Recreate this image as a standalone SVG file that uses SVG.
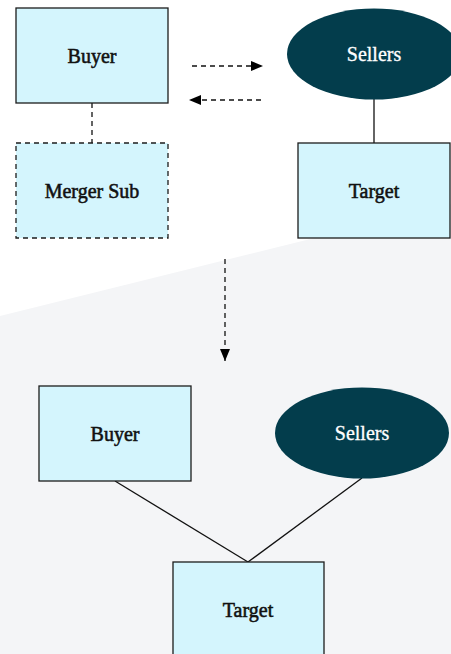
<svg xmlns="http://www.w3.org/2000/svg" width="451" height="654" viewBox="0 0 451 654">
<style>
.box{fill:#d4f5fd;stroke:#1c1c1c;stroke-width:1.3}
.dash{stroke-dasharray:5 4}
.ell{fill:#033d4c}
.lbl{font-family:"Liberation Serif","Times New Roman",serif;font-size:20px;text-anchor:middle;fill:#111;stroke:#111;stroke-width:0.55}
.wl{fill:#fff;stroke:#fff;stroke-width:0.3}
.ln{stroke:#111;stroke-width:1.3;fill:none}
</style>
<defs>
<marker id="ah" markerWidth="13" markerHeight="11" refX="12" refY="5.5" orient="auto" markerUnits="userSpaceOnUse">
<path d="M0,0.5 L12,5.5 L0,10.5 z" fill="#000"/>
</marker>
</defs>
<rect width="451" height="654" fill="#fff"/>
<polygon points="0,316 451,204 451,654 0,654" fill="#f4f5f7"/>
<g id="connectors">
<line class="ln dash" x1="92" y1="103" x2="92" y2="143"/>
<line class="ln" x1="374" y1="99" x2="374" y2="143"/>
<line class="ln dash" x1="192" y1="66" x2="263" y2="66" marker-end="url(#ah)"/>
<line class="ln dash" x1="261" y1="100" x2="189" y2="100" marker-end="url(#ah)"/>
<line class="ln dash" x1="225" y1="259" x2="225" y2="361" marker-end="url(#ah)"/>
<line class="ln" x1="115" y1="481" x2="248" y2="562"/>
<line class="ln" x1="362" y1="478" x2="248" y2="562"/>
</g>
<g id="buyer-before">
<rect class="box" x="16" y="8" width="152" height="95"/>
<text class="lbl" x="92" y="62.5">Buyer</text>
</g>
<g id="mergersub-before">
<rect class="box dash" x="16" y="143" width="152" height="95"/>
<text class="lbl" x="92" y="198">Merger Sub</text>
</g>
<g id="sellers-before">
<ellipse class="ell" cx="374" cy="54" rx="87" ry="45.5"/>
<text class="lbl wl" x="374" y="61">Sellers</text>
</g>
<g id="target-before">
<rect class="box" x="298" y="143" width="152" height="95"/>
<text class="lbl" x="374" y="198">Target</text>
</g>
<g id="buyer-after">
<rect class="box" x="39" y="386" width="152" height="95"/>
<text class="lbl" x="115" y="440.5">Buyer</text>
</g>
<g id="sellers-after">
<ellipse class="ell" cx="362" cy="433" rx="87" ry="45.5"/>
<text class="lbl wl" x="362" y="440">Sellers</text>
</g>
<g id="target-after">
<rect class="box" x="173" y="562" width="151" height="95"/>
<text class="lbl" x="248" y="616.5">Target</text>
</g>
</svg>
